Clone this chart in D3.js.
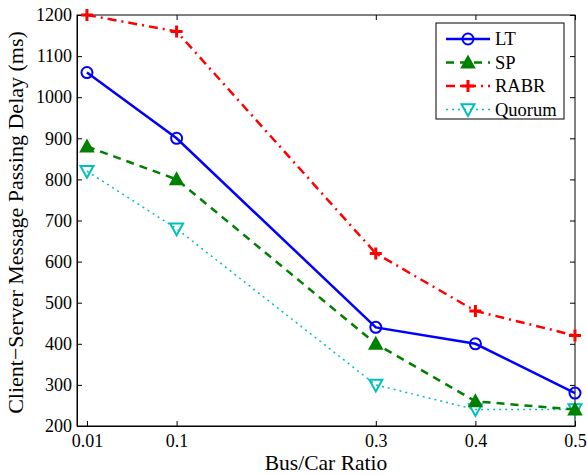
<!DOCTYPE html>
<html><head><meta charset="utf-8">
<script src="https://cdn.jsdelivr.net/npm/d3@7"></script>
<style>body{margin:0;background:#fff}svg{display:block}text{font-family:"Liberation Serif","Times New Roman",serif}</style>
</head><body>
<svg id="c" width="587" height="475"></svg>
<script>
const xValues = [0.01, 0.1, 0.3, 0.4, 0.5];
const xTickLabels = ["0.01", "0.1", "0.3", "0.4", "0.5"];
const yTicks = [200,300,400,500,600,700,800,900,1000,1100,1200];
const seriesNames = ["LT", "SP", "RABR", "Quorum"];
const ltValues = [1060, 900, 440, 400, 280];
const spValues = [880, 800, 400, 260, 240];
const rabrValues = [1200, 1160, 620, 480, 420];
const quorumValues = [820, 680, 300, 240, 240];

const series = [
  {name: "LT", values: ltValues, color: "#0000ff", dash: null, marker: "circle"},
  {name: "SP", values: spValues, color: "#008000", dash: "8,6", marker: "tri"},
  {name: "RABR", values: rabrValues, color: "#ff0000", dash: "9,5,2,5", marker: "plus"},
  {name: "Quorum", values: quorumValues, color: "#00bfbf", dash: "2,4", marker: "tridown"}
];

const svg = d3.select("#c");
const L = 77, R = 575, T = 15, B = 426;
const x = d3.scaleLinear().domain([0, 0.5]).range([L, R]);
const y = d3.scaleLinear().domain([200, 1200]).range([B, T]);

const g = svg.append("g");
const ax = g.append("g").attr("transform", `translate(0,${B})`)
  .call(d3.axisBottom(x).tickValues(xValues).tickFormat((d,i)=>xTickLabels[i]).tickSizeInner(-5).tickSizeOuter(0).tickPadding(8));
const ay = g.append("g").attr("transform", `translate(${L},0)`)
  .call(d3.axisLeft(y).tickValues(yTicks).tickFormat(d3.format("d")).tickSizeInner(-5).tickSizeOuter(0).tickPadding(5));
const axT = g.append("g").attr("transform", `translate(0,${T})`)
  .call(d3.axisTop(x).tickValues(xValues).tickFormat("").tickSizeInner(-5).tickSizeOuter(0));
const ayR = g.append("g").attr("transform", `translate(${R},0)`)
  .call(d3.axisRight(y).tickValues(yTicks).tickFormat("").tickSizeInner(-5).tickSizeOuter(0));
[ax, ay, axT, ayR].forEach(a => {
  a.selectAll("path").attr("stroke", "#000").attr("stroke-width", 1);
  a.selectAll("line").attr("stroke", "#000");
  a.selectAll("text").attr("font-size", 18).attr("fill", "#000").attr("font-family", '"Liberation Serif",serif');
});
ax.selectAll("text").attr("dy", "0.71em");
axT.select("path").remove(); ayR.select("path").remove();
g.append("rect").attr("x", L).attr("y", T).attr("width", R-L).attr("height", B-T)
  .attr("fill", "none").attr("stroke", "#000").attr("stroke-width", 1);

const line = d3.line().x((d,i)=>x(xValues[i])).y(d=>y(d));

function drawMarker(sel, type, color, cx, cy) {
  if (type === "circle") {
    sel.append("circle").attr("cx", cx).attr("cy", cy).attr("r", 5.5)
      .attr("fill", "none").attr("stroke", color).attr("stroke-width", 2);
  } else if (type === "tri") {
    const s = 6.5;
    sel.append("path").attr("d", `M${cx},${cy-s}L${cx+s},${cy+s*0.8}L${cx-s},${cy+s*0.8}Z`)
      .attr("fill", color).attr("stroke", color).attr("stroke-width", 1.5);
  } else if (type === "tridown") {
    const s = 6.5;
    sel.append("path").attr("d", `M${cx},${cy+s}L${cx+s},${cy-s*0.8}L${cx-s},${cy-s*0.8}Z`)
      .attr("fill", "none").attr("stroke", color).attr("stroke-width", 2);
  } else if (type === "plus") {
    const s = 6;
    sel.append("path").attr("d", `M${cx-s},${cy}H${cx+s}M${cx},${cy-s}V${cy+s}`)
      .attr("stroke", color).attr("stroke-width", 3);
  }
}

[...series].reverse().forEach(s => {
  const sg = g.append("g");
  sg.append("path").datum(s.values).attr("d", line).attr("fill", "none")
    .attr("stroke", s.color).attr("stroke-width", s.name === "Quorum" ? 1.5 : 2.5)
    .attr("stroke-dasharray", s.dash);
  s.values.forEach((v,i) => drawMarker(sg, s.marker, s.color, x(xValues[i]), y(v)));
});

const lg = g.append("g");
lg.append("rect").attr("x", 436).attr("y", 23).attr("width", 128).attr("height", 96)
  .attr("fill", "#fff").attr("stroke", "#000").attr("stroke-width", 1);
series.forEach((s, i) => {
  const ly = 39 + i * 23.5;
  lg.append("line").attr("x1", 446).attr("x2", 490).attr("y1", ly).attr("y2", ly)
    .attr("stroke", s.color).attr("stroke-width", s.name === "Quorum" ? 1.5 : 2.5)
    .attr("stroke-dasharray", s.dash);
  drawMarker(lg, s.marker, s.color, 468, ly);
  lg.append("text").attr("x", 495).attr("y", ly).attr("dy", "0.35em")
    .attr("font-size", 18.5).text(s.name);
});

svg.append("text").attr("x", (L+R)/2).attr("y", 470).attr("text-anchor", "middle")
  .attr("font-size", 21.5).text("Bus/Car Ratio");
svg.append("text").attr("transform", `translate(23,${(T+B)/2+2}) rotate(-90)`)
  .attr("text-anchor", "middle").attr("font-size", 22).text("Client\u2212Server Message Passing Delay (ms)");
</script>
</body></html>
